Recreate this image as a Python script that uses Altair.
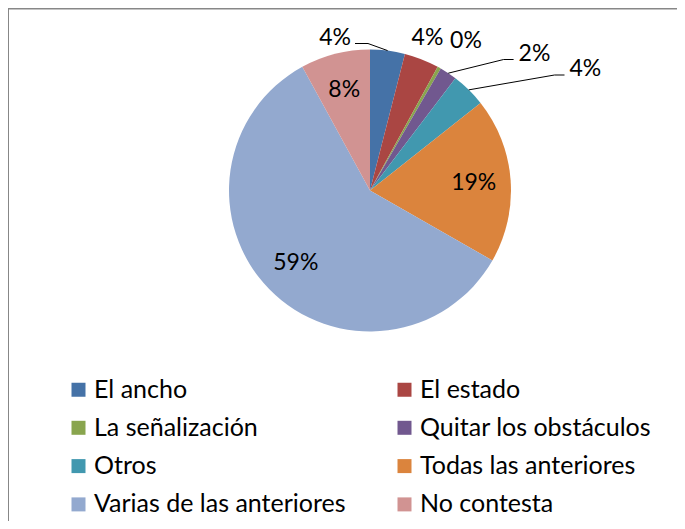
import math
import altair as alt
import pandas as pd

# ---- data ----
categories = ["El ancho", "El estado", "La señalización", "Quitar los obstáculos",
              "Otros", "Todas las anteriores", "Varias de las anteriores", "No contesta"]
values = [4, 4, 0.4, 2, 4, 19, 59, 8]
pct_labels = ["4%", "4%", "0%", "2%", "4%", "19%", "59%", "8%"]

# ---- styles / layout ----
colors = ["#4572A7", "#AA4643", "#89A54E", "#71588F",
          "#4198AF", "#DB843D", "#93A9CF", "#D19392"]
inside = [False, False, False, False, False, True, True, True]
W, H = 669, 513
CX, CY, R = 362, 182.5, 141
FONT = "Lato"
# outer label anchors relative to pie centre: (align, dx, dy, has_leader)
outer_layout = {
    "El ancho": ("right", -19, -153, True),
    "El estado": ("center", 57.5, -153, False),
    "La señalización": ("center", 96, -150, False),
    "Quitar los obstáculos": ("left", 148.6, -137, True),
    "Otros": ("left", 199.5, -121.5, True),
}

# legend is laid out column by column: reorder so that it reads row by row
n_rows = 4
legend_order = [categories[r * 2 + c] for c in range(2) for r in range(n_rows)]
legend_colors = [colors[categories.index(c)] for c in legend_order]

df = pd.DataFrame({
    "cat": categories,
    "value": values,
    "order": list(range(len(categories))),
    "inner": [l if i else "" for l, i in zip(pct_labels, inside)],
})

color_scale = alt.Scale(domain=legend_order, range=legend_colors)

base = alt.Chart(df).encode(
    theta=alt.Theta("value:Q", stack=True),
    order=alt.Order("order:Q"),
)

pie = base.mark_arc(outerRadius=R, stroke=None, x=CX, y=CY).encode(
    color=alt.Color(
        "cat:N", scale=color_scale, sort=legend_order, title=None,
        legend=alt.Legend(
            orient="none", legendX=58, legendY=369, columns=2,
            symbolType="square", symbolSize=196, symbolStrokeWidth=0,
            symbolOpacity=1, labelFontSize=25, labelFont=FONT,
            labelColor="#000000", labelOffset=3, rowPadding=12.3,
            columnPadding=46, padding=0, labelLimit=400,
        ),
    )
)

inner_text = base.mark_text(radius=104, x=CX, y=CY, fontSize=23, font=FONT,
                            color="#000000").encode(text="inner:N")

# outer labels and leader lines derived from slice angles
total = sum(values)
cum = 0.0
lab_rows, lead_rows = [], []
for c, v, lab in zip(categories, values, pct_labels):
    mid = 2 * math.pi * (cum + v / 2) / total
    cum += v
    if c not in outer_layout:
        continue
    align, dx, dy, leader = outer_layout[c]
    ax, ay = CX + dx, CY + dy
    lab_rows.append({"cat": c, "x": ax, "y": ay, "t": lab, "align": align})
    if leader:
        sx, sy = CX + R * math.sin(mid), CY - R * math.cos(mid)
        if align == "right":
            ex, elx = ax + 4, ax + 17
        else:
            ex, elx = ax - 5, ax - 15
        ly = ay + 6
        for k, (px, py) in enumerate([(sx, sy), (elx, ly), (ex, ly)]):
            lead_rows.append({"cat": c, "k": k, "x": px, "y": py})

lab_df = pd.DataFrame(lab_rows)
lead_df = pd.DataFrame(lead_rows)

outer_layers = []
for al in ["left", "right", "center"]:
    sub = lab_df[lab_df["align"] == al]
    if len(sub):
        outer_layers.append(
            alt.Chart(sub).mark_text(align=al, fontSize=23, font=FONT, color="#000000").encode(
                x=alt.X("x:Q", scale=None), y=alt.Y("y:Q", scale=None), text="t:N")
        )

leaders = alt.Chart(lead_df).mark_line(color="#000000", strokeWidth=1).encode(
    x=alt.X("x:Q", scale=None), y=alt.Y("y:Q", scale=None),
    detail="cat:N", order="k:Q")

frame_df = pd.DataFrame({"f": [0]})
frame_top = alt.Chart(frame_df).mark_rule(color="#878787", strokeWidth=2).encode(
    x=alt.value(0), x2=alt.value(W + 20), y=alt.value(0.5))
frame_left = alt.Chart(frame_df).mark_rule(color="#878787", strokeWidth=2).encode(
    x=alt.value(0), y=alt.value(0), y2=alt.value(H + 20))

chart = alt.layer(pie, inner_text, leaders, *outer_layers, frame_top, frame_left).properties(
    width=W, height=H, autosize=alt.AutoSizeParams(type="none"), padding=0,
    background="white",
).configure_view(stroke=None).configure(font=FONT)

chart.save("out.html", embed_options={"renderer": "svg", "actions": False})
